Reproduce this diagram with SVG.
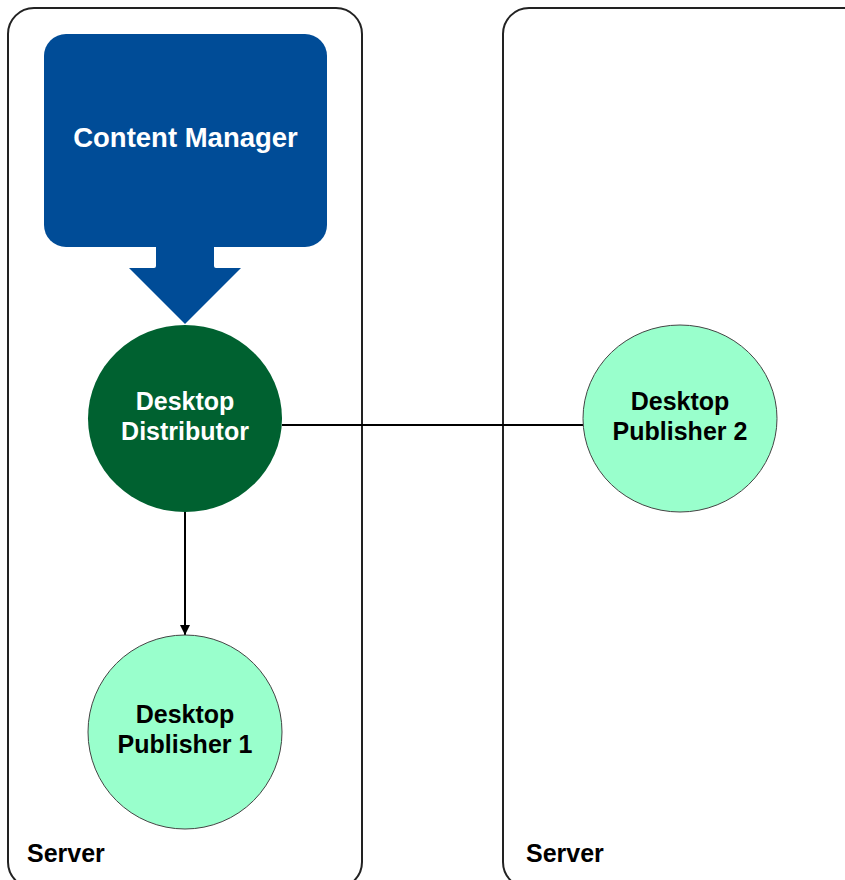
<svg xmlns="http://www.w3.org/2000/svg" width="845" height="880" viewBox="0 0 845 880">
  <style>
    .server { fill: #ffffff; stroke: #222222; stroke-width: 2; }
    .label { font-family: "Liberation Sans", Arial, sans-serif; font-weight: bold; text-anchor: middle; }
    .dark { fill: #ffffff; }
    .ink { fill: #000000; }
    .pub { fill: #99ffcc; stroke: #444444; stroke-width: 1; }
    .conn { fill: none; stroke: #000000; stroke-width: 2; }
  </style>
  <defs>
    <marker id="arrow" viewBox="0 0 10 10" refX="10" refY="5" markerWidth="5" markerHeight="5" orient="auto" markerUnits="strokeWidth">
      <path d="M0,0 L10,5 L0,10 z" fill="#000000"/>
    </marker>
  </defs>

  <rect width="845" height="880" fill="#ffffff"/>

  <!-- server containers -->
  <g id="server-left">
    <rect class="server" x="8" y="8" width="354" height="880" rx="26"/>
    <text class="label ink" x="27" y="862" style="text-anchor:start" font-size="25">Server</text>
  </g>
  <g id="server-right">
    <rect class="server" x="503" y="8" width="380" height="880" rx="26"/>
    <text class="label ink" x="526" y="862" style="text-anchor:start" font-size="25">Server</text>
  </g>

  <!-- connectors -->
  <g id="connectors">
    <line class="conn" x1="282" y1="425" x2="583" y2="425"/>
    <line class="conn" x1="185" y1="512" x2="185" y2="635" marker-end="url(#arrow)"/>
  </g>

  <g id="content-manager">
    <rect x="44" y="34" width="283" height="213" rx="22" fill="#004c97"/>
    <path d="M156,246 L214,246 L214,266 Q214,268 216,268 L241,268 L185,324 L129,268 L154,268 Q156,268 156,266 Z" fill="#004c97"/>
    <text class="label dark" x="185.5" y="146.5" font-size="27.5">Content Manager</text>
  </g>

  <g id="desktop-distributor">
    <ellipse cx="185" cy="418.5" rx="97" ry="93.5" fill="#006130"/>
    <text class="label dark" x="185" y="410" font-size="25">Desktop</text>
    <text class="label dark" x="185" y="440" font-size="25">Distributor</text>
  </g>

  <g id="desktop-publisher-1">
    <circle class="pub" cx="185" cy="732" r="97"/>
    <text class="label ink" x="185" y="723" font-size="25">Desktop</text>
    <text class="label ink" x="185" y="753" font-size="25">Publisher 1</text>
  </g>

  <g id="desktop-publisher-2">
    <ellipse class="pub" cx="680" cy="418.5" rx="97" ry="93.5"/>
    <text class="label ink" x="680" y="410" font-size="25">Desktop</text>
    <text class="label ink" x="680" y="440" font-size="25">Publisher 2</text>
  </g>
</svg>
